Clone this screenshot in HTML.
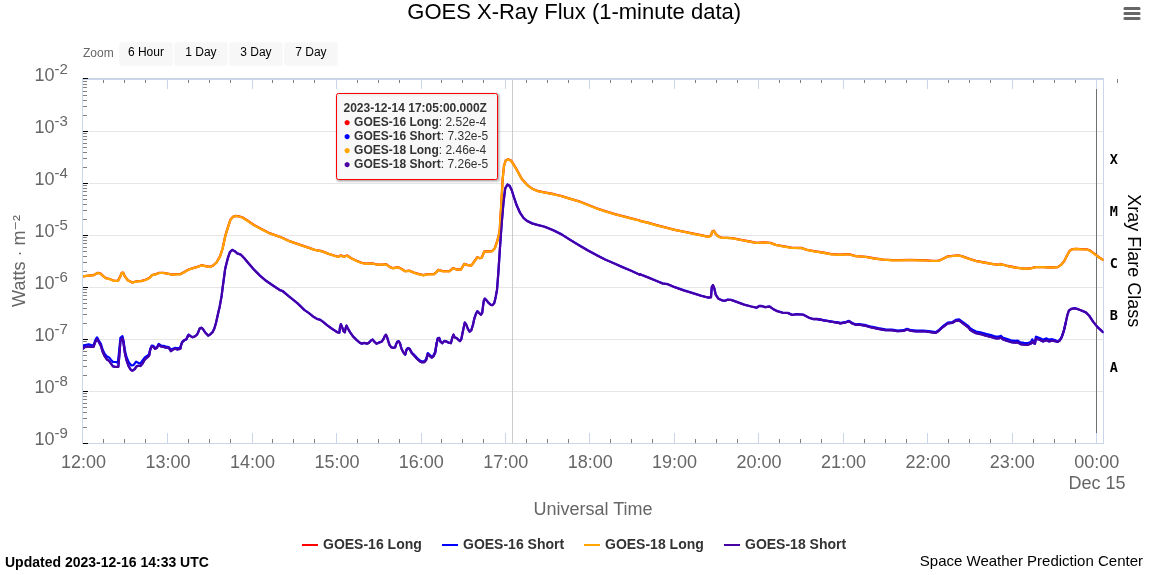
<!DOCTYPE html>
<html lang="en"><head><meta charset="utf-8"><title>GOES X-Ray Flux</title>
<style>
html,body{margin:0;padding:0;background:#fff;}
body{width:1151px;height:575px;overflow:hidden;position:relative;font-family:"Liberation Sans",Arial,Helvetica,sans-serif;}
svg{position:absolute;left:0;top:0;display:block;}
svg text{font-family:"Liberation Sans",Arial,Helvetica,sans-serif;}
.mono{font-family:"DejaVu Sans Mono","Liberation Mono",monospace;font-weight:bold;}
.foot{position:absolute;font-size:14px;color:#000;white-space:nowrap;line-height:16px;}
</style></head><body>
<svg width="1151" height="575" viewBox="0 0 1151 575">
<rect x="0" y="0" width="1151" height="575" fill="#ffffff"/>
<path d="M89 131.5 L1103.5 131.5 M89 183.5 L1103.5 183.5 M89 235.5 L1103.5 235.5 M89 287.5 L1103.5 287.5 M89 339.5 L1103.5 339.5 M89 391.5 L1103.5 391.5" stroke="#e6e6e6" stroke-width="1" fill="none"/>
<path d="M167.5 79 L167.5 89 M167.5 433 L167.5 443 M252.5 79 L252.5 89 M252.5 433 L252.5 443 M336.5 79 L336.5 89 M336.5 433 L336.5 443 M421.5 79 L421.5 89 M421.5 433 L421.5 443 M505.5 79 L505.5 89 M505.5 433 L505.5 443 M589.5 79 L589.5 89 M589.5 433 L589.5 443 M674.5 79 L674.5 89 M674.5 433 L674.5 443 M758.5 79 L758.5 89 M758.5 433 L758.5 443 M843.5 79 L843.5 89 M843.5 433 L843.5 443 M927.5 79 L927.5 89 M927.5 433 L927.5 443 M1012.5 79 L1012.5 89 M1012.5 433 L1012.5 443 M1096.5 79 L1096.5 89 M1096.5 433 L1096.5 443" stroke="#ccd6eb" stroke-width="1" fill="none"/>
<path d="M103.5 80 L103.5 83 M103.5 439 L103.5 443 M124.5 80 L124.5 83 M124.5 439 L124.5 443 M145.5 80 L145.5 83 M145.5 439 L145.5 443 M188.5 80 L188.5 83 M188.5 439 L188.5 443 M209.5 80 L209.5 83 M209.5 439 L209.5 443 M230.5 80 L230.5 83 M230.5 439 L230.5 443 M272.5 80 L272.5 83 M272.5 439 L272.5 443 M293.5 80 L293.5 83 M293.5 439 L293.5 443 M314.5 80 L314.5 83 M314.5 439 L314.5 443 M357.5 80 L357.5 83 M357.5 439 L357.5 443 M378.5 80 L378.5 83 M378.5 439 L378.5 443 M399.5 80 L399.5 83 M399.5 439 L399.5 443 M441.5 80 L441.5 83 M441.5 439 L441.5 443 M462.5 80 L462.5 83 M462.5 439 L462.5 443 M483.5 80 L483.5 83 M483.5 439 L483.5 443 M526.5 80 L526.5 83 M526.5 439 L526.5 443 M547.5 80 L547.5 83 M547.5 439 L547.5 443 M568.5 80 L568.5 83 M568.5 439 L568.5 443 M610.5 80 L610.5 83 M610.5 439 L610.5 443 M631.5 80 L631.5 83 M631.5 439 L631.5 443 M652.5 80 L652.5 83 M652.5 439 L652.5 443 M695.5 80 L695.5 83 M695.5 439 L695.5 443 M716.5 80 L716.5 83 M716.5 439 L716.5 443 M737.5 80 L737.5 83 M737.5 439 L737.5 443 M779.5 80 L779.5 83 M779.5 439 L779.5 443 M800.5 80 L800.5 83 M800.5 439 L800.5 443 M821.5 80 L821.5 83 M821.5 439 L821.5 443 M864.5 80 L864.5 83 M864.5 439 L864.5 443 M885.5 80 L885.5 83 M885.5 439 L885.5 443 M906.5 80 L906.5 83 M906.5 439 L906.5 443 M948.5 80 L948.5 83 M948.5 439 L948.5 443 M969.5 80 L969.5 83 M969.5 439 L969.5 443 M990.5 80 L990.5 83 M990.5 439 L990.5 443 M1033.5 80 L1033.5 83 M1033.5 439 L1033.5 443 M1054.5 80 L1054.5 83 M1054.5 439 L1054.5 443 M1075.5 80 L1075.5 83 M1075.5 439 L1075.5 443 M1117.5 79 L1117.5 83" stroke="#808080" stroke-width="1" fill="none"/>
<path d="M82 79 L1104 79" stroke="#ccd6eb" stroke-width="2" fill="none"/>
<path d="M82 443.5 L1104 443.5 M82.5 78 L82.5 444 M1103.5 78 L1103.5 444" stroke="#ccd6eb" stroke-width="1" fill="none"/>
<path d="M83 115.5 L87 115.5 M83 106.5 L87 106.5 M83 100.5 L87 100.5 M83 95.5 L87 95.5 M83 91.5 L87 91.5 M83 87.5 L87 87.5 M83 84.5 L87 84.5 M83 81.5 L87 81.5 M83 167.5 L87 167.5 M83 158.5 L87 158.5 M83 152.5 L87 152.5 M83 147.5 L87 147.5 M83 143.5 L87 143.5 M83 139.5 L87 139.5 M83 136.5 L87 136.5 M83 133.5 L87 133.5 M83 219.5 L87 219.5 M83 210.5 L87 210.5 M83 204.5 L87 204.5 M83 199.5 L87 199.5 M83 195.5 L87 195.5 M83 191.5 L87 191.5 M83 188.5 L87 188.5 M83 185.5 L87 185.5 M83 271.5 L87 271.5 M83 262.5 L87 262.5 M83 256.5 L87 256.5 M83 251.5 L87 251.5 M83 247.5 L87 247.5 M83 243.5 L87 243.5 M83 240.5 L87 240.5 M83 237.5 L87 237.5 M83 323.5 L87 323.5 M83 314.5 L87 314.5 M83 308.5 L87 308.5 M83 303.5 L87 303.5 M83 299.5 L87 299.5 M83 295.5 L87 295.5 M83 292.5 L87 292.5 M83 289.5 L87 289.5 M83 375.5 L87 375.5 M83 366.5 L87 366.5 M83 360.5 L87 360.5 M83 355.5 L87 355.5 M83 351.5 L87 351.5 M83 347.5 L87 347.5 M83 344.5 L87 344.5 M83 341.5 L87 341.5 M83 427.5 L87 427.5 M83 418.5 L87 418.5 M83 412.5 L87 412.5 M83 407.5 L87 407.5 M83 403.5 L87 403.5 M83 399.5 L87 399.5 M83 396.5 L87 396.5 M83 393.5 L87 393.5" stroke="#808080" stroke-width="1" fill="none"/>
<path d="M83 78.5 L88 78.5 M83 131.5 L88 131.5 M83 183.5 L88 183.5 M83 235.5 L88 235.5 M83 287.5 L88 287.5 M83 339.5 L88 339.5 M83 391.5 L88 391.5 M83 443.5 L88 443.5" stroke="#000000" stroke-width="1" fill="none"/>
<path d="M512.5 79.5 L512.5 443.5" stroke="#cccccc" stroke-width="1" fill="none"/>
<path d="M1096.5 89 L1096.5 433" stroke="#707070" stroke-width="1" fill="none"/>
<defs><clipPath id="plotclip"><rect x="83" y="79" width="1020.5" height="365"/></clipPath></defs>
<g clip-path="url(#plotclip)">
<path d="M80.9 276.4 L82.6 276.4 L88.7 275.6 L93.9 275.0 L97.4 272.9 L100.0 273.2 L103.5 276.4 L106.1 278.2 L109.6 279.0 L113.9 280.8 L117.9 280.9 L120.3 276.4 L121.7 272.9 L123.1 272.6 L124.9 276.4 L127.8 280.2 L132.2 282.5 L137.4 281.2 L140.9 281.1 L146.1 279.6 L149.6 277.8 L152.2 275.0 L155.7 274.2 L159.1 272.9 L163.5 272.9 L168.7 273.8 L172.2 274.7 L176.5 274.2 L180.0 274.2 L184.3 272.1 L188.7 269.5 L193.0 268.1 L197.4 266.9 L201.7 265.2 L205.2 266.0 L209.6 266.9 L213.0 265.6 L216.5 262.5 L220.0 256.4 L222.6 248.5 L225.2 236.3 L227.8 227.7 L230.4 219.8 L233.0 216.8 L235.7 215.8 L239.1 216.3 L242.6 217.5 L247.0 220.3 L253.9 225.0 L260.9 228.8 L268.7 232.8 L279.8 236.8 L280.0 236.8 L288.7 240.8 L297.4 243.8 L306.1 246.8 L314.8 249.8 L321.7 251.2 L328.7 253.8 L333.9 255.5 L338.3 256.9 L340.9 255.2 L343.5 256.9 L347.0 255.5 L351.3 258.2 L356.5 260.8 L361.7 262.9 L366.1 263.7 L372.2 263.4 L377.4 264.6 L382.6 264.6 L386.1 264.2 L389.6 266.9 L393.0 268.2 L398.3 267.2 L401.7 269.1 L405.2 271.2 L409.6 270.7 L413.9 272.6 L419.1 274.2 L423.5 275.2 L427.8 274.2 L433.9 274.2 L436.5 272.1 L438.3 269.8 L442.6 271.2 L449.6 271.2 L453.0 268.1 L456.5 269.5 L460.9 269.5 L464.3 263.9 L467.8 265.1 L471.3 265.6 L474.8 260.8 L477.4 257.2 L479.8 258.2 L481.7 257.7 L484.3 251.5 L487.8 251.5 L492.2 251.0 L494.8 248.2 L497.0 242.0 L498.8 235.0 L499.8 229.8 L500.2 221.3 L501.2 205.8 L502.6 179.7 L504.0 165.8 L505.7 160.5 L508.2 159.2 L511.0 160.5 L513.9 164.8 L517.4 170.9 L521.7 178.8 L527.0 184.8 L532.2 188.7 L537.4 190.9 L544.3 192.3 L553.0 194.0 L561.7 196.2 L570.4 198.8 L579.1 201.3 L587.8 204.8 L596.5 208.3 L605.2 211.2 L613.9 213.8 L622.6 216.2 L631.3 218.4 L639.8 220.5 L640.0 220.8 L648.7 222.9 L657.4 225.4 L666.1 227.7 L674.8 229.8 L683.5 231.7 L692.2 233.4 L700.9 235.2 L708.7 236.8 L711.0 235.5 L712.2 231.5 L713.9 230.8 L715.7 233.8 L718.3 236.3 L721.7 237.8 L727.0 237.8 L732.2 238.2 L740.9 239.8 L749.6 241.5 L756.5 242.8 L763.5 242.4 L770.4 242.8 L775.7 244.8 L782.6 246.2 L791.3 247.7 L801.7 248.0 L807.0 249.8 L813.9 251.2 L822.6 252.5 L831.3 254.2 L839.8 254.7 L840.0 254.7 L848.7 254.2 L855.7 256.1 L866.1 256.9 L874.8 258.5 L883.5 259.6 L892.2 260.2 L900.9 260.2 L909.6 259.9 L918.3 260.2 L927.0 260.4 L932.2 260.9 L938.3 260.9 L942.6 259.0 L947.8 256.4 L953.0 255.8 L958.3 255.5 L961.7 256.1 L968.7 258.7 L975.7 260.9 L984.3 262.5 L993.0 264.1 L999.8 264.9 L1000.0 263.9 L1007.9 266.0 L1015.7 267.5 L1023.6 268.6 L1030.2 268.5 L1035.4 267.1 L1043.3 267.1 L1051.2 267.5 L1057.7 267.1 L1061.0 264.9 L1064.3 261.0 L1066.9 255.7 L1069.5 251.0 L1072.2 249.2 L1076.1 248.8 L1081.3 249.2 L1086.6 249.3 L1089.9 250.4 L1094.5 253.9 L1099.7 257.7 L1103.0 259.7" stroke="#ff0000" stroke-width="2.3" fill="none" stroke-linejoin="round" stroke-linecap="round"/>
<path d="M80.9 347.9 L82.6 347.5 L83.0 348.6 L85.2 346.9 L88.7 346.4 L91.3 346.9 L93.5 346.9 L95.2 342.1 L97.0 339.0 L98.7 341.6 L100.9 346.0 L102.8 352.1 L104.8 356.4 L107.0 359.5 L109.1 360.8 L110.9 363.4 L113.0 366.4 L115.7 366.9 L118.3 366.9 L119.3 356.0 L120.4 341.2 L122.4 337.7 L123.5 342.9 L124.8 352.5 L126.5 360.2 L128.7 366.4 L130.9 369.9 L132.6 370.6 L134.8 369.0 L136.5 366.4 L138.7 365.6 L140.4 366.0 L142.6 363.4 L144.8 359.5 L147.4 357.2 L149.1 355.6 L150.3 349.5 L151.7 346.4 L153.5 346.9 L155.2 348.9 L157.0 347.7 L158.7 344.7 L160.9 346.4 L163.5 346.9 L166.1 347.7 L168.7 347.7 L170.9 351.0 L173.0 349.5 L175.2 348.6 L177.4 349.5 L180.0 348.9 L180.5 348.4 L181.3 344.2 L182.6 341.6 L184.3 340.2 L186.5 339.0 L187.8 336.0 L188.7 334.7 L190.4 336.0 L192.6 337.2 L194.8 336.4 L197.0 334.7 L198.3 332.1 L199.6 328.6 L201.3 327.7 L203.0 329.0 L205.2 332.5 L208.3 335.6 L210.4 334.2 L212.6 332.1 L214.3 328.6 L216.1 322.5 L217.8 314.7 L219.6 306.9 L220.9 299.9 L221.7 295.2 L223.0 284.9 L223.7 279.9 L225.2 268.6 L227.8 258.2 L229.9 252.0 L232.2 249.8 L234.8 251.2 L237.4 253.4 L240.9 254.7 L244.3 258.2 L248.7 263.4 L253.9 269.5 L260.0 275.6 L266.1 280.8 L273.0 285.5 L279.8 290.0 L280.0 290.1 L282.6 291.0 L288.7 296.2 L297.4 303.2 L304.3 309.9 L308.7 312.9 L313.0 316.4 L316.5 318.6 L320.4 319.9 L323.5 322.1 L327.0 325.1 L331.3 328.2 L334.8 330.6 L337.4 332.2 L339.3 332.7 L340.0 327.2 L340.9 324.2 L342.2 327.2 L343.5 331.2 L344.8 332.2 L345.7 327.7 L346.5 325.6 L347.8 328.2 L350.0 332.1 L353.0 336.4 L356.5 339.9 L360.0 342.8 L361.7 343.6 L364.3 342.9 L367.0 343.6 L368.7 342.9 L370.9 340.5 L372.6 339.5 L374.3 341.6 L376.5 343.6 L378.3 342.9 L380.0 342.1 L381.7 341.6 L383.5 339.0 L384.8 336.0 L385.9 334.7 L387.0 336.9 L388.3 341.2 L389.6 345.1 L391.3 347.2 L393.5 347.9 L395.2 347.2 L396.1 344.2 L397.4 341.6 L398.7 341.2 L400.0 343.4 L400.9 346.6 L401.7 349.2 L403.9 353.2 L405.2 354.5 L406.5 349.7 L407.8 348.2 L409.6 348.8 L411.7 352.7 L414.3 355.8 L417.4 359.2 L420.0 361.4 L421.7 362.2 L424.3 362.1 L426.1 360.1 L427.8 354.0 L429.6 355.8 L431.7 357.5 L433.5 356.2 L435.2 352.7 L436.5 344.0 L437.8 338.4 L439.1 337.9 L440.4 341.4 L442.2 343.2 L444.3 341.0 L446.5 341.4 L448.7 342.7 L450.9 343.2 L452.2 337.9 L453.5 334.6 L454.8 337.5 L456.5 337.9 L458.3 339.7 L460.0 341.0 L461.3 339.2 L462.6 332.7 L463.9 326.6 L464.8 322.5 L466.1 324.2 L467.8 328.6 L469.6 331.6 L471.3 330.2 L473.0 324.7 L474.3 318.6 L476.1 313.4 L477.4 311.2 L479.1 312.9 L480.9 314.7 L482.2 312.9 L483.0 306.4 L483.9 300.2 L484.8 298.6 L486.5 300.2 L488.7 302.9 L490.9 304.9 L492.6 305.1 L494.3 302.9 L495.7 296.9 L497.0 289.9 L498.3 273.4 L500.0 247.2 L501.2 229.8 L501.7 223.2 L503.5 202.2 L505.2 188.3 L507.5 184.5 L509.6 185.8 L511.7 190.0 L513.9 197.0 L516.5 204.8 L520.0 212.7 L523.5 217.8 L527.0 220.8 L532.2 223.4 L537.4 224.8 L544.3 226.5 L553.0 230.0 L561.7 234.4 L570.4 239.9 L579.1 245.2 L587.8 250.3 L596.5 255.0 L605.2 259.5 L613.9 263.2 L622.6 267.1 L631.3 270.8 L639.8 274.8 L640.0 274.2 L648.7 277.6 L657.4 281.2 L662.6 283.4 L667.8 284.2 L674.8 287.2 L683.5 290.2 L692.2 292.9 L700.9 295.6 L707.8 297.5 L711.0 297.2 L711.8 286.9 L713.0 285.1 L714.4 288.6 L715.7 294.7 L718.3 298.5 L721.7 300.2 L724.3 300.8 L727.8 299.6 L731.3 299.9 L737.4 302.2 L744.3 304.6 L751.3 306.5 L756.5 307.7 L759.1 306.0 L761.7 306.0 L765.2 307.2 L769.6 306.5 L773.0 308.9 L777.4 311.2 L782.6 312.6 L787.8 312.9 L792.2 314.9 L796.5 314.2 L803.5 314.7 L808.7 317.6 L813.0 319.0 L817.4 319.0 L824.3 320.4 L831.3 321.6 L839.8 323.0 L840.0 323.4 L845.2 322.5 L849.0 321.2 L852.2 323.4 L855.7 324.8 L859.1 324.6 L866.1 325.8 L871.3 327.4 L878.3 328.8 L885.2 330.0 L892.2 330.2 L897.4 331.2 L903.5 330.9 L907.0 329.5 L911.3 330.9 L916.5 331.4 L923.5 331.2 L930.4 332.1 L935.7 332.8 L938.3 331.2 L942.6 327.2 L947.8 323.4 L952.2 322.9 L955.7 320.8 L959.1 320.4 L962.6 323.0 L968.7 327.7 L970.0 329.7 L972.6 331.4 L976.1 333.2 L980.4 334.0 L985.7 335.6 L990.9 336.8 L996.1 338.4 L998.7 338.4 L1000.9 337.5 L1002.6 339.2 L1006.5 340.6 L1010.9 342.0 L1015.2 342.6 L1017.8 342.2 L1020.4 344.0 L1023.9 344.6 L1027.4 344.9 L1030.0 344.0 L1031.3 343.2 L1032.2 341.0 L1033.5 343.2 L1035.0 343.6 L1035.9 338.4 L1037.0 338.8 L1039.6 339.7 L1043.0 341.4 L1046.5 340.1 L1049.1 341.4 L1052.2 340.6 L1054.8 341.0 L1057.4 341.9 L1059.6 340.6 L1061.7 337.1 L1063.9 330.6 L1065.7 322.7 L1067.4 314.9 L1068.9 310.5 L1071.5 308.8 L1074.8 308.2 L1078.1 309.2 L1082.0 310.7 L1085.9 312.4 L1089.2 315.7 L1093.1 321.6 L1097.1 326.6 L1103.0 332.1" stroke="#0000ff" stroke-width="2.3" fill="none" stroke-linejoin="round" stroke-linecap="round"/>
<path d="M83.0 346.1 L85.2 345.0 L88.7 344.3 L91.3 345.0 L93.5 345.5 L95.2 340.4 L97.0 337.4 L98.7 340.4 L100.9 343.9 L102.8 350.0 L104.8 353.9 L107.0 356.5 L109.1 357.4 L110.9 359.6 L113.0 362.0 L115.7 362.0 L117.8 362.6 L119.1 351.7 L120.4 337.8 L122.4 336.1 L123.5 340.4 L124.8 350.0 L126.5 357.0 L128.7 362.2 L131.3 365.5 L133.5 365.2 L136.1 361.7 L138.3 362.9 L140.4 363.5 L142.6 360.4 L144.8 357.4 L147.4 355.7 L149.1 354.3 L150.3 348.7 L151.7 345.7 L153.5 345.9 L155.2 348.3 L157.0 347.0 L158.7 343.9 L160.9 345.5 L163.5 345.9 L166.1 346.5 L168.7 347.0 L170.9 349.6 L173.0 348.7 L175.2 347.8 L177.4 348.4 L180.0 347.8 L181.3 344.3 L182.6 341.7 L184.3 340.4 L186.5 339.1 L187.8 336.1 L188.7 334.8" stroke="#0000ff" stroke-width="2.2" fill="none" stroke-linejoin="round" stroke-linecap="round"/>
<path d="M405.2 354.6 L406.5 349.8 L407.8 348.3 L409.6 348.9 L411.7 352.8 L414.3 354.9 L417.4 358.3 L420.0 360.5 L421.7 361.4 L424.3 361.2 L426.1 359.2 L427.8 353.1 L429.6 354.9 L431.7 356.6 L433.5 355.3 L435.2 351.8 L436.5 344.1 L437.8 338.5 L439.1 338.0 L440.4 341.5" stroke="#0000ff" stroke-width="2.2" fill="none" stroke-linejoin="round" stroke-linecap="round"/>
<path d="M817.4 319.1 L824.3 320.4 L831.3 321.5 L839.8 322.8 L840.0 323.2 L845.2 322.2 L849.0 320.9 L852.2 323.0 L855.7 324.3 L859.1 324.1 L866.1 325.2 L871.3 326.7 L878.3 328.1 L885.2 329.3 L892.2 329.6 L897.4 330.5 L903.5 330.2 L907.0 328.8 L911.3 330.2 L916.5 330.7 L923.5 330.5 L930.4 331.4 L935.7 332.1 L938.3 330.5 L942.6 326.5 L947.8 322.7 L952.2 322.1 L955.7 319.9 L959.1 319.3 L962.6 321.8 L968.7 326.3 L970.0 328.2 L972.6 329.8 L976.1 331.5 L980.4 332.3 L985.7 333.9 L990.9 335.1 L996.1 336.7 L998.7 336.7 L1000.9 335.8 L1002.6 337.5 L1006.5 338.9 L1010.9 340.3 L1015.2 340.9 L1017.8 340.6 L1020.4 342.3 L1023.9 342.9 L1027.4 343.2 L1030.0 342.3 L1031.3 341.5 L1032.2 339.3 L1033.5 341.5 L1035.0 341.9 L1035.9 336.7 L1037.0 337.1 L1039.6 338.0 L1043.0 339.7 L1046.5 338.4 L1049.1 339.7 L1052.2 339.2 L1054.8 340.0 L1057.4 341.3 L1059.6 340.3 L1061.7 337.2 L1063.9 330.7 L1065.7 322.8" stroke="#0000ff" stroke-width="2.2" fill="none" stroke-linejoin="round" stroke-linecap="round"/>
<path d="M80.9 276.5 L82.6 276.5 L88.7 275.7 L93.9 275.1 L97.4 273.0 L100.0 273.4 L103.5 276.5 L106.1 278.3 L109.6 279.1 L113.9 280.9 L117.9 281.0 L120.3 276.5 L121.7 273.0 L123.1 272.7 L124.9 276.5 L127.8 280.3 L132.2 282.6 L137.4 281.4 L140.9 281.2 L146.1 279.7 L149.6 277.9 L152.2 275.1 L155.7 274.4 L159.1 273.0 L163.5 273.0 L168.7 273.9 L172.2 274.8 L176.5 274.3 L180.0 274.4 L184.3 272.2 L188.7 269.6 L193.0 268.2 L197.4 267.0 L201.7 265.4 L205.2 266.1 L209.6 267.0 L213.0 265.7 L216.5 262.6 L220.0 256.5 L222.6 248.7 L225.2 236.5 L227.8 227.8 L230.4 220.0 L233.0 216.9 L235.7 216.0 L239.1 216.5 L242.6 217.7 L247.0 220.5 L253.9 225.2 L260.9 229.0 L268.7 233.0 L279.8 236.9 L280.0 236.9 L288.7 240.9 L297.4 244.0 L306.1 247.0 L314.8 249.9 L321.7 251.3 L328.7 253.9 L333.9 255.7 L338.3 257.0 L340.9 255.3 L343.5 257.0 L347.0 255.7 L351.3 258.3 L356.5 260.9 L361.7 263.0 L366.1 263.8 L372.2 263.5 L377.4 264.7 L382.6 264.7 L386.1 264.3 L389.6 267.0 L393.0 268.3 L398.3 267.3 L401.7 269.2 L405.2 271.3 L409.6 270.8 L413.9 272.7 L419.1 274.4 L423.5 275.3 L427.8 274.4 L433.9 274.3 L436.5 272.2 L438.3 269.9 L442.6 271.3 L449.6 271.3 L453.0 268.2 L456.5 269.6 L460.9 269.6 L464.3 264.0 L467.8 265.2 L471.3 265.7 L474.8 260.9 L477.4 257.4 L479.8 258.3 L481.7 257.8 L484.3 251.7 L487.8 251.7 L492.2 251.2 L494.8 248.3 L497.0 242.2 L498.8 235.2 L499.8 230.0 L500.2 221.5 L501.2 205.9 L502.6 179.8 L504.0 165.9 L505.7 160.7 L508.2 159.3 L511.0 160.7 L513.9 165.0 L517.4 171.1 L521.7 178.9 L527.0 185.0 L532.2 188.8 L537.4 191.1 L544.3 192.5 L553.0 194.2 L561.7 196.3 L570.4 198.9 L579.1 201.5 L587.8 205.0 L596.5 208.5 L605.2 211.4 L613.9 214.0 L622.6 216.3 L631.3 218.6 L639.8 220.7 L640.0 220.9 L648.7 223.1 L657.4 225.6 L666.1 227.8 L674.8 229.9 L683.5 231.8 L692.2 233.6 L700.9 235.3 L708.7 236.9 L711.0 235.7 L712.2 231.7 L713.9 231.0 L715.7 233.9 L718.3 236.5 L721.7 237.9 L727.0 237.9 L732.2 238.3 L740.9 240.0 L749.6 241.7 L756.5 243.0 L763.5 242.6 L770.4 243.0 L775.7 244.9 L782.6 246.4 L791.3 247.8 L801.7 248.2 L807.0 249.9 L813.9 251.3 L822.6 252.7 L831.3 254.3 L839.8 254.8 L840.0 254.8 L848.7 254.3 L855.7 256.2 L866.1 257.0 L874.8 258.6 L883.5 259.7 L892.2 260.3 L900.9 260.3 L909.6 260.0 L918.3 260.3 L927.0 260.5 L932.2 261.0 L938.3 261.0 L942.6 259.1 L947.8 256.5 L953.0 256.0 L958.3 255.7 L961.7 256.2 L968.7 258.8 L975.7 261.0 L984.3 262.6 L993.0 264.2 L999.8 265.0 L1000.0 264.0 L1007.9 266.1 L1015.7 267.6 L1023.6 268.7 L1030.2 268.6 L1035.4 267.2 L1043.3 267.2 L1051.2 267.6 L1057.7 267.2 L1061.0 265.0 L1064.3 261.1 L1066.9 255.8 L1069.5 251.2 L1072.2 249.3 L1076.1 248.9 L1081.3 249.3 L1086.6 249.5 L1089.9 250.6 L1094.5 254.1 L1099.7 257.8 L1103.0 259.8" stroke="#ffa500" stroke-width="2.2" fill="none" stroke-linejoin="round" stroke-linecap="round"/>
<path d="M80.9 348.0 L82.6 347.6 L83.0 348.7 L85.2 347.0 L88.7 346.5 L91.3 347.0 L93.5 347.0 L95.2 342.2 L97.0 339.1 L98.7 341.7 L100.9 346.1 L102.8 352.2 L104.8 356.5 L107.0 359.6 L109.1 360.9 L110.9 363.5 L113.0 366.5 L115.7 367.0 L118.3 367.0 L119.3 356.1 L120.4 341.3 L122.4 337.8 L123.5 343.0 L124.8 352.6 L126.5 360.4 L128.7 366.5 L130.9 370.0 L132.6 370.7 L134.8 369.1 L136.5 366.5 L138.7 365.7 L140.4 366.1 L142.6 363.5 L144.8 359.6 L147.4 357.4 L149.1 355.7 L150.3 349.6 L151.7 346.5 L153.5 347.0 L155.2 349.0 L157.0 347.8 L158.7 344.8 L160.9 346.5 L163.5 347.0 L166.1 347.8 L168.7 347.8 L170.9 351.1 L173.0 349.6 L175.2 348.7 L177.4 349.6 L180.0 349.0 L180.5 348.5 L181.3 344.3 L182.6 341.7 L184.3 340.4 L186.5 339.1 L187.8 336.1 L188.7 334.8 L190.4 336.1 L192.6 337.4 L194.8 336.5 L197.0 334.8 L198.3 332.2 L199.6 328.7 L201.3 327.8 L203.0 329.1 L205.2 332.6 L208.3 335.7 L210.4 334.3 L212.6 332.2 L214.3 328.7 L216.1 322.6 L217.8 314.8 L219.6 307.0 L220.9 300.0 L221.7 295.4 L223.0 285.0 L223.7 280.0 L225.2 268.7 L227.8 258.3 L229.9 252.2 L232.2 249.9 L234.8 251.3 L237.4 253.6 L240.9 254.8 L244.3 258.3 L248.7 263.5 L253.9 269.6 L260.0 275.7 L266.1 280.9 L273.0 285.6 L279.8 290.1 L280.0 290.2 L282.6 291.1 L288.7 296.3 L297.4 303.3 L304.3 310.0 L308.7 313.0 L313.0 316.5 L316.5 318.7 L320.4 320.0 L323.5 322.2 L327.0 325.2 L331.3 328.3 L334.8 330.7 L337.4 332.4 L339.3 332.8 L340.0 327.4 L340.9 324.3 L342.2 327.4 L343.5 331.3 L344.8 332.4 L345.7 327.8 L346.5 325.7 L347.8 328.3 L350.0 332.2 L353.0 336.5 L356.5 340.0 L360.0 342.9 L361.7 343.7 L364.3 343.0 L367.0 343.7 L368.7 343.0 L370.9 340.6 L372.6 339.6 L374.3 341.7 L376.5 343.7 L378.3 343.0 L380.0 342.2 L381.7 341.7 L383.5 339.1 L384.8 336.1 L385.9 334.8 L387.0 337.0 L388.3 341.3 L389.6 345.2 L391.3 347.4 L393.5 348.0 L395.2 347.4 L396.1 344.3 L397.4 341.7 L398.7 341.3 L400.0 343.5 L400.9 346.7 L401.7 349.3 L403.9 353.3 L405.2 354.6 L406.5 349.8 L407.8 348.3 L409.6 348.9 L411.7 352.8 L414.3 355.9 L417.4 359.3 L420.0 361.5 L421.7 362.4 L424.3 362.2 L426.1 360.2 L427.8 354.1 L429.6 355.9 L431.7 357.6 L433.5 356.3 L435.2 352.8 L436.5 344.1 L437.8 338.5 L439.1 338.0 L440.4 341.5 L442.2 343.3 L444.3 341.1 L446.5 341.5 L448.7 342.8 L450.9 343.3 L452.2 338.0 L453.5 334.7 L454.8 337.6 L456.5 338.0 L458.3 339.8 L460.0 341.1 L461.3 339.3 L462.6 332.8 L463.9 326.7 L464.8 322.6 L466.1 324.3 L467.8 328.7 L469.6 331.7 L471.3 330.4 L473.0 324.8 L474.3 318.7 L476.1 313.5 L477.4 311.3 L479.1 313.0 L480.9 314.8 L482.2 313.0 L483.0 306.5 L483.9 300.4 L484.8 298.7 L486.5 300.4 L488.7 303.0 L490.9 305.0 L492.6 305.2 L494.3 303.0 L495.7 297.0 L497.0 290.0 L498.3 273.5 L500.0 247.4 L501.2 230.0 L501.7 223.3 L503.5 202.4 L505.2 188.5 L507.5 184.7 L509.6 185.9 L511.7 190.2 L513.9 197.2 L516.5 205.0 L520.0 212.8 L523.5 218.0 L527.0 221.0 L532.2 223.6 L537.4 225.0 L544.3 226.7 L553.0 230.2 L561.7 234.6 L570.4 240.1 L579.1 245.3 L587.8 250.5 L596.5 255.2 L605.2 259.6 L613.9 263.4 L622.6 267.2 L631.3 270.9 L639.8 274.9 L640.0 274.3 L648.7 277.7 L657.4 281.4 L662.6 283.5 L667.8 284.3 L674.8 287.3 L683.5 290.4 L692.2 293.0 L700.9 295.7 L707.8 297.6 L711.0 297.4 L711.8 287.0 L713.0 285.2 L714.4 288.7 L715.7 294.8 L718.3 298.6 L721.7 300.3 L724.3 300.9 L727.8 299.7 L731.3 300.0 L737.4 302.3 L744.3 304.7 L751.3 306.6 L756.5 307.8 L759.1 306.1 L761.7 306.1 L765.2 307.3 L769.6 306.6 L773.0 309.0 L777.4 311.3 L782.6 312.7 L787.8 313.0 L792.2 315.0 L796.5 314.3 L803.5 314.8 L808.7 317.7 L813.0 319.1 L817.4 319.1 L824.3 320.5 L831.3 321.7 L839.8 323.1 L840.0 323.5 L845.2 322.6 L849.0 321.4 L852.2 323.5 L855.7 324.9 L859.1 324.7 L866.1 325.9 L871.3 327.5 L878.3 328.9 L885.2 330.1 L892.2 330.4 L897.4 331.3 L903.5 331.0 L907.0 329.6 L911.3 331.0 L916.5 331.5 L923.5 331.3 L930.4 332.2 L935.7 332.9 L938.3 331.3 L942.6 327.3 L947.8 323.5 L952.2 323.0 L955.7 320.9 L959.1 320.5 L962.6 323.1 L968.7 327.8 L970.0 329.8 L972.6 331.5 L976.1 333.3 L980.4 334.1 L985.7 335.7 L990.9 336.9 L996.1 338.5 L998.7 338.5 L1000.9 337.6 L1002.6 339.3 L1006.5 340.7 L1010.9 342.1 L1015.2 342.7 L1017.8 342.4 L1020.4 344.1 L1023.9 344.7 L1027.4 345.0 L1030.0 344.1 L1031.3 343.3 L1032.2 341.1 L1033.5 343.3 L1035.0 343.7 L1035.9 338.5 L1037.0 338.9 L1039.6 339.8 L1043.0 341.5 L1046.5 340.2 L1049.1 341.5 L1052.2 340.7 L1054.8 341.1 L1057.4 342.0 L1059.6 340.7 L1061.7 337.2 L1063.9 330.7 L1065.7 322.8 L1067.4 315.0 L1068.9 310.6 L1071.5 308.9 L1074.8 308.4 L1078.1 309.3 L1082.0 310.8 L1085.9 312.5 L1089.2 315.8 L1093.1 321.7 L1097.1 326.7 L1103.0 332.2" stroke="#4a00a3" stroke-width="2.1" fill="none" stroke-linejoin="round" stroke-linecap="round"/>
</g>
<text x="574.2" y="18.7" text-anchor="middle" font-size="22" fill="#000000">GOES X-Ray Flux (1-minute data)</text>
<path d="M1124.9 8.5 L1139.1 8.5 M1124.9 13.5 L1139.1 13.5 M1124.9 18.5 L1139.1 18.5" stroke="#666666" stroke-width="3" stroke-linecap="round" fill="none"/>
<text x="83" y="56.5" font-size="12" fill="#666666">Zoom</text>
<rect x="119.2" y="42.2" width="53.4" height="23.5" rx="2" ry="2" fill="#f7f7f7"/>
<text x="145.9" y="55.9" text-anchor="middle" font-size="12" fill="#000000">6 Hour</text>
<rect x="174.2" y="42.2" width="53.4" height="23.5" rx="2" ry="2" fill="#f7f7f7"/>
<text x="200.89999999999998" y="55.9" text-anchor="middle" font-size="12" fill="#000000">1 Day</text>
<rect x="229.2" y="42.2" width="53.4" height="23.5" rx="2" ry="2" fill="#f7f7f7"/>
<text x="255.89999999999998" y="55.9" text-anchor="middle" font-size="12" fill="#000000">3 Day</text>
<rect x="284.2" y="42.2" width="53.4" height="23.5" rx="2" ry="2" fill="#f7f7f7"/>
<text x="310.9" y="55.9" text-anchor="middle" font-size="12" fill="#000000">7 Day</text>
<text x="67.8" y="80.7" text-anchor="end" font-size="18" fill="#666666">10<tspan font-size="15" dy="-6.7">-2</tspan></text>
<text x="67.8" y="132.7" text-anchor="end" font-size="18" fill="#666666">10<tspan font-size="15" dy="-6.7">-3</tspan></text>
<text x="67.8" y="184.7" text-anchor="end" font-size="18" fill="#666666">10<tspan font-size="15" dy="-6.7">-4</tspan></text>
<text x="67.8" y="236.7" text-anchor="end" font-size="18" fill="#666666">10<tspan font-size="15" dy="-6.7">-5</tspan></text>
<text x="67.8" y="288.7" text-anchor="end" font-size="18" fill="#666666">10<tspan font-size="15" dy="-6.7">-6</tspan></text>
<text x="67.8" y="340.7" text-anchor="end" font-size="18" fill="#666666">10<tspan font-size="15" dy="-6.7">-7</tspan></text>
<text x="67.8" y="392.7" text-anchor="end" font-size="18" fill="#666666">10<tspan font-size="15" dy="-6.7">-8</tspan></text>
<text x="67.8" y="444.7" text-anchor="end" font-size="18" fill="#666666">10<tspan font-size="15" dy="-6.7">-9</tspan></text>
<text transform="translate(25,261) rotate(-90)" text-anchor="middle" font-size="18" fill="#666666" style="font-family:'Liberation Sans','DejaVu Sans',sans-serif">Watts · m⁻²</text>
<text transform="translate(1128.4,260.8) rotate(90)" text-anchor="middle" font-size="18" fill="#000000">Xray Flare Class</text>
<text class="mono" x="1113.8" y="163.8" text-anchor="middle" font-size="13.5" fill="#000000">X</text>
<text class="mono" x="1113.8" y="215.8" text-anchor="middle" font-size="13.5" fill="#000000">M</text>
<text class="mono" x="1113.8" y="267.8" text-anchor="middle" font-size="13.5" fill="#000000">C</text>
<text class="mono" x="1113.8" y="319.8" text-anchor="middle" font-size="13.5" fill="#000000">B</text>
<text class="mono" x="1113.8" y="371.8" text-anchor="middle" font-size="13.5" fill="#000000">A</text>
<text x="83.6" y="467.6" text-anchor="middle" font-size="18" fill="#666666">12:00</text>
<text x="168.0" y="467.6" text-anchor="middle" font-size="18" fill="#666666">13:00</text>
<text x="252.5" y="467.6" text-anchor="middle" font-size="18" fill="#666666">14:00</text>
<text x="336.9" y="467.6" text-anchor="middle" font-size="18" fill="#666666">15:00</text>
<text x="421.3" y="467.6" text-anchor="middle" font-size="18" fill="#666666">16:00</text>
<text x="505.8" y="467.6" text-anchor="middle" font-size="18" fill="#666666">17:00</text>
<text x="590.2" y="467.6" text-anchor="middle" font-size="18" fill="#666666">18:00</text>
<text x="674.6" y="467.6" text-anchor="middle" font-size="18" fill="#666666">19:00</text>
<text x="759.0" y="467.6" text-anchor="middle" font-size="18" fill="#666666">20:00</text>
<text x="843.5" y="467.6" text-anchor="middle" font-size="18" fill="#666666">21:00</text>
<text x="927.9" y="467.6" text-anchor="middle" font-size="18" fill="#666666">22:00</text>
<text x="1012.3" y="467.6" text-anchor="middle" font-size="18" fill="#666666">23:00</text>
<text x="1096.8" y="467.6" text-anchor="middle" font-size="18" fill="#666666">00:00</text>
<text x="1097.0" y="489" text-anchor="middle" font-size="18" fill="#666666">Dec 15</text>
<text x="593.1" y="514.8" text-anchor="middle" font-size="18" fill="#666666">Universal Time</text>
<path d="M302 545 L318 545" stroke="#ff0000" stroke-width="2" fill="none"/>
<text x="323" y="549" font-size="14" font-weight="bold" fill="#333333">GOES-16 Long</text>
<path d="M442 545 L458 545" stroke="#0000ff" stroke-width="2" fill="none"/>
<text x="463" y="549" font-size="14" font-weight="bold" fill="#333333">GOES-16 Short</text>
<path d="M584 545 L600 545" stroke="#ffa500" stroke-width="2" fill="none"/>
<text x="605" y="549" font-size="14" font-weight="bold" fill="#333333">GOES-18 Long</text>
<path d="M724 545 L740 545" stroke="#4a00a3" stroke-width="2" fill="none"/>
<text x="745" y="549" font-size="14" font-weight="bold" fill="#333333">GOES-18 Short</text>
<g>
<rect x="336.5" y="93.5" width="161" height="86" rx="2" ry="2" fill="none" stroke="#000000" stroke-opacity="0.05" stroke-width="5" transform="translate(1,1)"/>
<rect x="336.5" y="93.5" width="161" height="86" rx="2" ry="2" fill="none" stroke="#000000" stroke-opacity="0.1" stroke-width="3" transform="translate(1,1)"/>
<rect x="336.5" y="93.5" width="161" height="86" rx="2" ry="2" fill="none" stroke="#000000" stroke-opacity="0.15" stroke-width="1" transform="translate(1,1)"/>
<rect x="336.5" y="93.5" width="161" height="86" rx="2" ry="2" fill="#f7f7f7" fill-opacity="0.85" stroke="#ff0000" stroke-width="1"/>
<text x="343.5" y="112" font-size="12" font-weight="bold" fill="#333333">2023-12-14 17:05:00.000Z</text>
<text x="343.5" y="126" font-size="12" fill="#333333"><tspan fill="#ff0000">●</tspan> <tspan font-weight="bold">GOES-16 Long</tspan>: 2.52e-4</text>
<text x="343.5" y="140" font-size="12" fill="#333333"><tspan fill="#0000ff">●</tspan> <tspan font-weight="bold">GOES-16 Short</tspan>: 7.32e-5</text>
<text x="343.5" y="154" font-size="12" fill="#333333"><tspan fill="#ffa500">●</tspan> <tspan font-weight="bold">GOES-18 Long</tspan>: 2.46e-4</text>
<text x="343.5" y="168" font-size="12" fill="#333333"><tspan fill="#4a00a3">●</tspan> <tspan font-weight="bold">GOES-18 Short</tspan>: 7.26e-5</text>
</g>
</svg>
<div class="foot" style="left:5px;top:554px;font-weight:bold;">Updated 2023-12-16 14:33 UTC</div>
<div class="foot" style="right:8px;top:553px;font-size:15px;">Space Weather Prediction Center</div>
</body></html>
